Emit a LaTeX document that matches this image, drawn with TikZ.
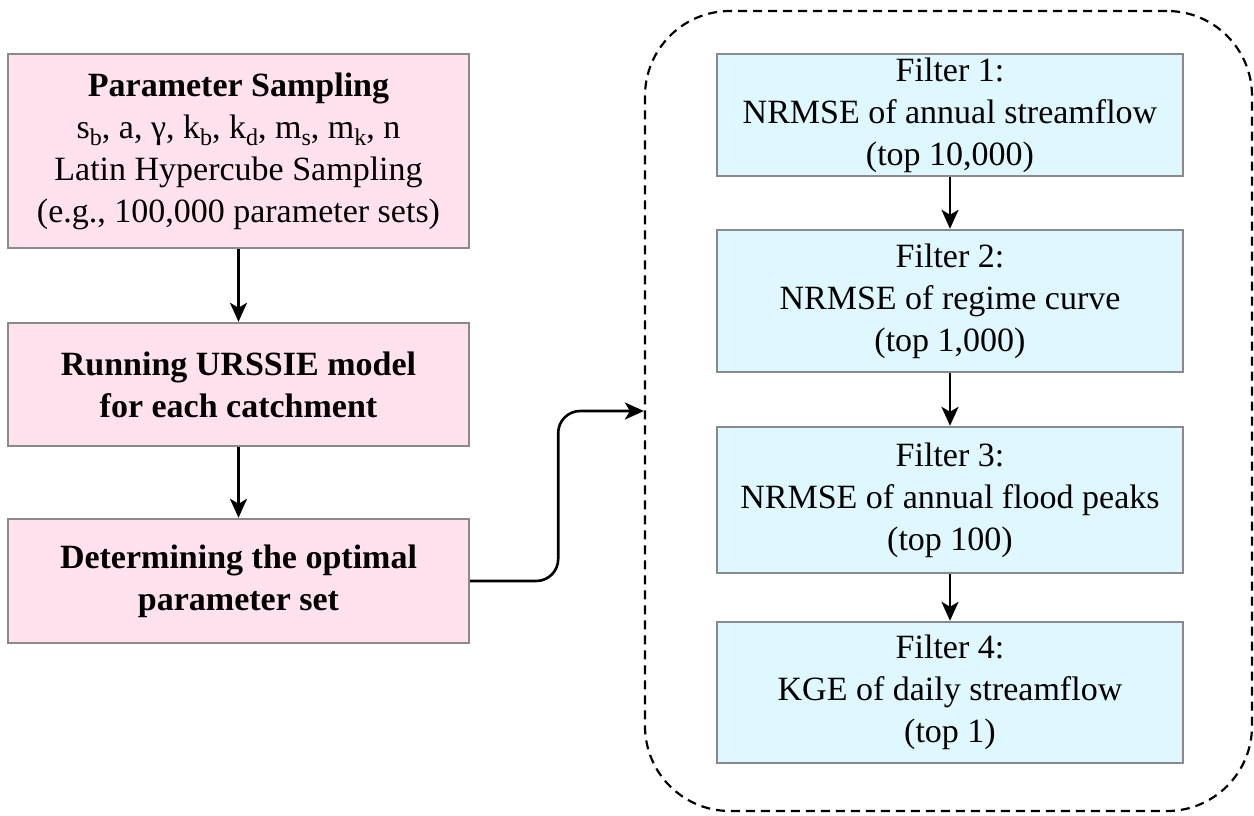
\documentclass[tikz,border=0pt]{standalone}
\usepackage{fontspec}
\setmainfont{LiberationSerif-Regular.ttf}[BoldFont=LiberationSerif-Bold.ttf,ItalicFont=LiberationSerif-Italic.ttf]
\usetikzlibrary{arrows.meta}
\definecolor{boxgray}{HTML}{8A8A8A}
\definecolor{pinkfill}{HTML}{FFE2EE}
\definecolor{bluefill}{HTML}{DFF7FE}
\newcommand\mysub[1]{\raisebox{-0.22em}{\fontsize{24}{24}\selectfont #1}}
\begin{document}
\begin{tikzpicture}[x=1pt,y=-1pt,
  box/.style={draw=boxgray, line width=2.4pt, align=center, inner sep=0pt,
    font=\fontsize{34}{42}\selectfont},
  lbox/.style={box, fill=pinkfill, minimum width=461pt},
  rbox/.style={box, fill=bluefill, minimum width=466pt},
  arr/.style={-{Stealth[length=19pt,width=17pt,inset=5pt]}, line width=2.6pt},
  region/.style={draw, dashed, dash pattern=on 9pt off 6pt, line width=2.2pt,
    rounded corners=85pt, inner sep=0pt}
]
\useasboundingbox (0,0) rectangle (1254,815);

\node[region, minimum width=607pt, minimum height=800pt] (reg) at (948.5,411) {};

\node[lbox, minimum height=194pt] (l1) at (238.5,151)
  {\textbf{Parameter Sampling}\\
   s\mysub{b}, a, γ, k\mysub{b}, k\mysub{d}, m\mysub{s}, m\mysub{k}, n\\
   Latin Hypercube Sampling\\
   (e.g., 100,000 parameter sets)};
\node[lbox, minimum height=123pt] (l2) at (238.5,384.5)
  {\textbf{Running URSSIE model}\\ \textbf{for each catchment}};
\node[lbox, minimum height=124pt] (l3) at (238.5,581)
  {\textbf{Determining the optimal}\\ \textbf{parameter set}};

\node[rbox, minimum height=122pt] (r1) at (950,115)
  {Filter 1:\\ NRMSE of annual streamflow\\ (top 10,000)};
\node[rbox, minimum height=142pt] (r2) at (950,301)
  {Filter 2:\\ NRMSE of regime curve\\ (top 1,000)};
\node[rbox, minimum height=146pt] (r3) at (950,500)
  {Filter 3:\\ NRMSE of annual flood peaks\\ (top 100)};
\node[rbox, minimum height=141pt] (r4) at (950,692.5)
  {Filter 4:\\ KGE of daily streamflow\\ (top 1)};

\draw[arr] (l1) -- (l2);
\draw[arr] (l2) -- (l3);
\draw[arr] (r1) -- (r2);
\draw[arr] (r2) -- (r3);
\draw[arr] (r3) -- (r4);
\draw[arr, rounded corners=22pt] (l3.east) -- ++(88,0) |- (reg.west);
\end{tikzpicture}
\end{document}
